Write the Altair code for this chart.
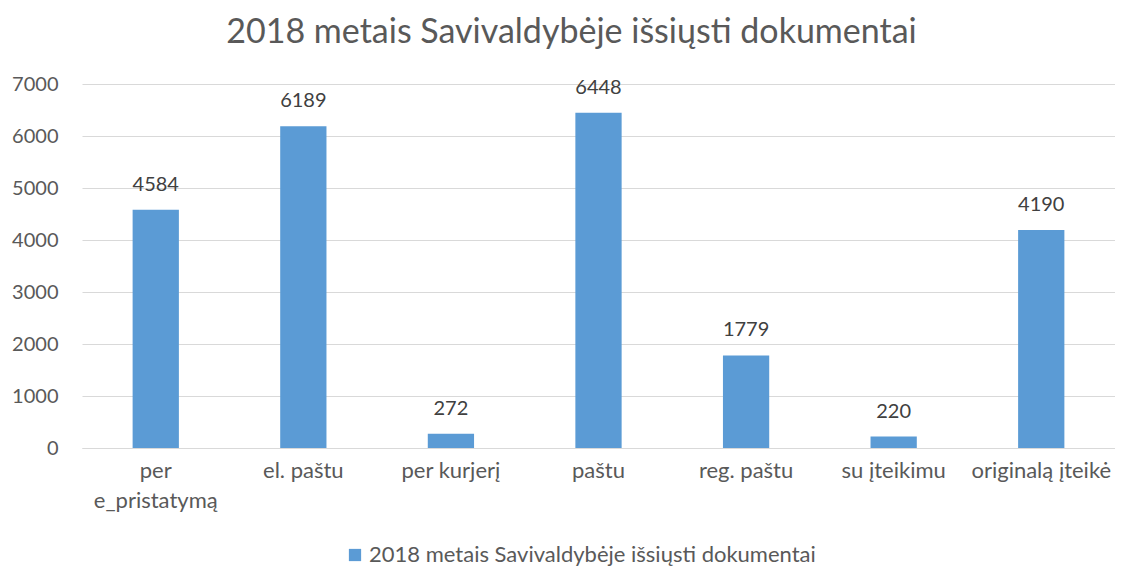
import altair as alt
import pandas as pd

categories = ["per e_pristatymą", "el. paštu", "per kurjerį", "paštu", "reg. paštu", "su įteikimu", "originalą įteikė"]
values = [4584, 6189, 272, 6448, 1779, 220, 4190]
series_name = "2018 metais Savivaldybėje išsiųsti dokumentai"
y_ticks = [0, 1000, 2000, 3000, 4000, 5000, 6000, 7000]

df = pd.DataFrame({"cat": categories, "val": values, "series": [series_name] * len(categories)})

FONT = "Lato"
GREY = "#595959"

x = alt.X("cat:N", sort=categories, title=None,
          scale=alt.Scale(paddingInner=0.6865, paddingOuter=0.343),
          axis=alt.Axis(labelAngle=0, labelFontSize=22, labelColor=GREY, labelFont=FONT,
                        labelPadding=12, ticks=False, domainColor="#D9D9D9", domainWidth=1,
                        labelLimit=220, labelLineHeight=30,
                        labelExpr="datum.label == 'per e_pristatymą' ? ['per', 'e_pristatymą'] : datum.label"))
y = alt.Y("val:Q", title=None,
          scale=alt.Scale(domain=[0, 7000]),
          axis=alt.Axis(values=y_ticks, format="d", labelFontSize=20, labelColor=GREY, labelFont=FONT,
                        labelPadding=24, ticks=False, domain=False, gridColor="#D9D9D9"))

bars = alt.Chart(df).mark_bar().encode(
    x=x, y=y,
    color=alt.Color("series:N", scale=alt.Scale(range=["#5B9BD5"]),
                    legend=alt.Legend(title=None, orient="none", legendX=262, legendY=460,
                                      symbolType="square", symbolSize=150, symbolStrokeWidth=0,
                                      labelFontSize=22, labelColor=GREY, labelFont=FONT,
                                      labelLimit=700, labelOffset=3))
)
labels = alt.Chart(df).mark_text(fontSize=20, color="#404040", font=FONT, baseline="middle", dy=-25).encode(
    x=alt.X("cat:N", sort=categories), y="val:Q", text="val:Q"
)

chart = alt.layer(bars, labels).properties(
    width=1033, height=364,
    autosize=alt.AutoSizeParams(type="none"),
    padding={"left": 74, "top": 76, "right": 0, "bottom": 118},
    title=alt.TitleParams(series_name, fontSize=34, font=FONT, color=GREY, fontWeight="normal",
                          anchor="middle", dx=-27, offset=24),
).configure_view(stroke=None)

chart.save("out.html", embed_options={"renderer": "svg", "actions": False})
